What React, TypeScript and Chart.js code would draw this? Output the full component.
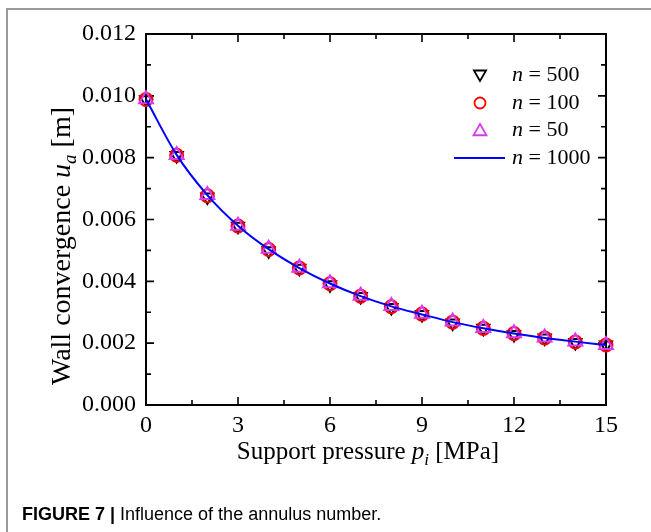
import React, { useEffect, useRef } from "react";
import { Chart, registerables } from "chart.js";

Chart.register(...registerables);

// Support pressure p_i [MPa]
const pressures = [0, 1, 2, 3, 4, 5, 6, 7, 8, 9, 10, 11, 12, 13, 14, 15];
// Wall convergence u_a [m]
const n500 = [0.00987, 0.00807, 0.00673, 0.00578, 0.00499, 0.00442, 0.00389, 0.00351, 0.00315, 0.00293, 0.00265, 0.00248, 0.00228, 0.00217, 0.00202, 0.00194];
const n100 = [0.00988, 0.00808, 0.00677, 0.00579, 0.00503, 0.00443, 0.00392, 0.00352, 0.00318, 0.00294, 0.00268, 0.00248, 0.00231, 0.00217, 0.00204, 0.00194];
const n50 = [0.00989, 0.00809, 0.00679, 0.00580, 0.00505, 0.00444, 0.00394, 0.00353, 0.00320, 0.00295, 0.00270, 0.00249, 0.00232, 0.00218, 0.00205, 0.00194];
const n1000 = [0.00989, 0.00809, 0.00679, 0.00580, 0.00504, 0.00443, 0.00393, 0.00352, 0.00319, 0.00293, 0.00268, 0.00248, 0.00231, 0.00217, 0.00205, 0.00194];

const legendLabels = ["500", "100", "50", "1000"];
const xTitle = ["Support pressure ", "p", "i", " [MPa]"];
const yTitle = ["Wall convergence ", "u", "a", " [m]"];
const captionBold = "FIGURE 7 | ";
const captionText = "Influence of the annulus number.";

const SERIF = "'Liberation Serif', 'Times New Roman', serif";
const SANS = "'Liberation Sans', Arial, sans-serif";

const COLORS = {
  n500: "#000000",
  n100: "#ff0000",
  n50: "#d83af2",
  n1000: "#0000ff",
};

function triangle(ctx: CanvasRenderingContext2D, x: number, y: number, r: number, down: boolean) {
  ctx.beginPath();
  for (let k = 0; k < 3; k++) {
    const ang = (down ? Math.PI / 2 : -Math.PI / 2) + (k * 2 * Math.PI) / 3;
    const px = x + r * Math.cos(ang);
    const py = y + r * Math.sin(ang);
    if (k === 0) ctx.moveTo(px, py);
    else ctx.lineTo(px, py);
  }
  ctx.closePath();
  ctx.stroke();
}

function drawTitle(ctx: CanvasRenderingContext2D, parts: string[], size: number) {
  const fReg = `${size}px ${SERIF}`;
  const fIt = `italic ${size}px ${SERIF}`;
  const fSub = `italic ${Math.round(size * 0.68)}px ${SERIF}`;
  const fonts = [fReg, fIt, fSub, fReg];
  const widths = parts.map((p, i) => {
    ctx.font = fonts[i];
    return ctx.measureText(p).width;
  });
  const total = widths.reduce((a, b) => a + b, 0);
  let cx = -total / 2;
  ctx.textBaseline = "alphabetic";
  ctx.textAlign = "left";
  parts.forEach((p, i) => {
    ctx.font = fonts[i];
    const dy = i === 2 ? size * 0.22 : 0;
    ctx.fillText(p, cx, size * 0.33 + dy);
    cx += widths[i];
  });
}

const boxPlugin = {
  id: "boxPlugin",
  beforeDatasetsDraw(chart: any) {
    const { ctx, chartArea: a, scales } = chart;
    const x = scales.x;
    const y = scales.y;
    ctx.save();
    ctx.strokeStyle = "#000";
    ctx.lineWidth = 2;
    ctx.strokeRect(a.left, a.top, a.right - a.left, a.bottom - a.top);
    ctx.lineWidth = 1.6;
    const xt = x.ticks.map((t: any) => t.value);
    const yt = y.ticks.map((t: any) => t.value);
    const drawX = (v: number, len: number) => {
      const px = x.getPixelForValue(v);
      ctx.beginPath();
      ctx.moveTo(px, a.bottom);
      ctx.lineTo(px, a.bottom - len);
      ctx.moveTo(px, a.top);
      ctx.lineTo(px, a.top + len);
      ctx.stroke();
    };
    const drawY = (v: number, len: number) => {
      const py = y.getPixelForValue(v);
      ctx.beginPath();
      ctx.moveTo(a.left, py);
      ctx.lineTo(a.left + len, py);
      ctx.moveTo(a.right, py);
      ctx.lineTo(a.right - len, py);
      ctx.stroke();
    };
    xt.forEach((v: number, i: number) => {
      drawX(v, 8);
      if (i < xt.length - 1) drawX((v + xt[i + 1]) / 2, 5);
    });
    yt.forEach((v: number, i: number) => {
      drawY(v, 8);
      if (i < yt.length - 1) drawY((v + yt[i + 1]) / 2, 5);
    });
    ctx.restore();
  },
  afterDraw(chart: any) {
    const { ctx } = chart;
    ctx.save();
    ctx.strokeStyle = "#9a9a9a";
    ctx.lineWidth = 2;
    ctx.beginPath();
    ctx.moveTo(7, 532);
    ctx.lineTo(7, 9);
    ctx.lineTo(651, 9);
    ctx.stroke();

    // legend
    const rows = [75, 103, 130, 158];
    const sx = 480;
    const tx = 512;
    ctx.lineWidth = 1.8;
    ctx.strokeStyle = COLORS.n500;
    triangle(ctx, sx, rows[0] - 1, 7, true);
    ctx.strokeStyle = COLORS.n100;
    ctx.beginPath();
    ctx.arc(sx, rows[1], 5.5, 0, Math.PI * 2);
    ctx.stroke();
    ctx.strokeStyle = COLORS.n50;
    triangle(ctx, sx, rows[2] + 1.5, 7.5, false);
    ctx.strokeStyle = COLORS.n1000;
    ctx.lineWidth = 2;
    ctx.beginPath();
    ctx.moveTo(454, rows[3]);
    ctx.lineTo(505, rows[3]);
    ctx.stroke();
    ctx.fillStyle = "#000";
    ctx.textBaseline = "middle";
    ctx.textAlign = "left";
    legendLabels.forEach((lab, i) => {
      ctx.font = `italic 22px ${SERIF}`;
      ctx.fillText("n", tx, rows[i]);
      const w = ctx.measureText("n").width;
      ctx.font = `22px ${SERIF}`;
      ctx.fillText(" = " + lab, tx + w, rows[i]);
    });

    // axis titles
    ctx.save();
    ctx.translate(368, 451);
    drawTitle(ctx, xTitle, 25);
    ctx.restore();
    ctx.save();
    ctx.translate(61, 246);
    ctx.rotate(-Math.PI / 2);
    drawTitle(ctx, yTitle, 28);
    ctx.restore();

    // caption
    ctx.textBaseline = "middle";
    ctx.textAlign = "left";
    ctx.font = `bold 18px ${SANS}`;
    ctx.fillText(captionBold, 22, 515);
    const bw = ctx.measureText(captionBold).width;
    ctx.font = `18px ${SANS}`;
    ctx.fillText(captionText, 22 + bw, 515);
    ctx.restore();
  },
};

export default function App() {
  const ref = useRef<HTMLCanvasElement | null>(null);

  useEffect(() => {
    if (!ref.current) return;
    const chart = new Chart(ref.current, {
      type: "line",
      data: {
        labels: pressures,
        datasets: [
          {
            label: "n = 1000",
            data: n1000,
            borderColor: COLORS.n1000,
            borderWidth: 2,
            pointRadius: 0,
            cubicInterpolationMode: "monotone",
            fill: false,
            clip: false as any,
          },
          {
            label: "n = 50",
            data: n50,
            showLine: false,
            pointStyle: "triangle",
            pointRadius: 8,
            pointBorderWidth: 2,
            pointBorderColor: COLORS.n50,
            pointBackgroundColor: "rgba(0,0,0,0)",
            clip: false as any,
          },
          {
            label: "n = 100",
            data: n100,
            showLine: false,
            pointStyle: "circle",
            pointRadius: 6.5,
            pointBorderWidth: 2,
            pointBorderColor: COLORS.n100,
            pointBackgroundColor: "rgba(0,0,0,0)",
            clip: false as any,
          },
          {
            label: "n = 500",
            data: n500,
            showLine: false,
            pointStyle: "triangle",
            rotation: 180,
            pointRadius: 7,
            pointBorderWidth: 2,
            pointBorderColor: COLORS.n500,
            pointBackgroundColor: "rgba(0,0,0,0)",
            clip: false as any,
          },
        ],
      },
      options: {
        animation: false,
        responsive: false,
        devicePixelRatio: 1,
        layout: { padding: { left: 0, top: 34, right: 45, bottom: 0 } },
        plugins: {
          legend: { display: false },
          tooltip: { enabled: false },
        },
        scales: {
          x: {
            type: "linear",
            min: 0,
            max: 15,
            ticks: {
              stepSize: 3,
              color: "#000",
              font: { family: SERIF, size: 24 },
              padding: -2,
              maxRotation: 0,
            },
            grid: { display: false },
            border: { display: false },
            afterFit: (s: any) => {
              s.height = 532 - 405;
            },
          },
          y: {
            type: "linear",
            min: 0,
            max: 0.012,
            ticks: {
              stepSize: 0.002,
              color: "#000",
              font: { family: SERIF, size: 24 },
              padding: 2,
              callback: (v: any) => Number(v).toFixed(3),
            },
            grid: { display: false },
            border: { display: false },
            afterFit: (s: any) => {
              s.width = 146;
            },
          },
        },
      },
      plugins: [boxPlugin],
    });
    return () => chart.destroy();
  }, []);

  return (
    <div style={{ position: "absolute", left: 0, top: 0, width: 651, height: 532, background: "#fff" }}>
      <canvas ref={ref} width={651} height={532} style={{ display: "block" }} />
    </div>
  );
}
